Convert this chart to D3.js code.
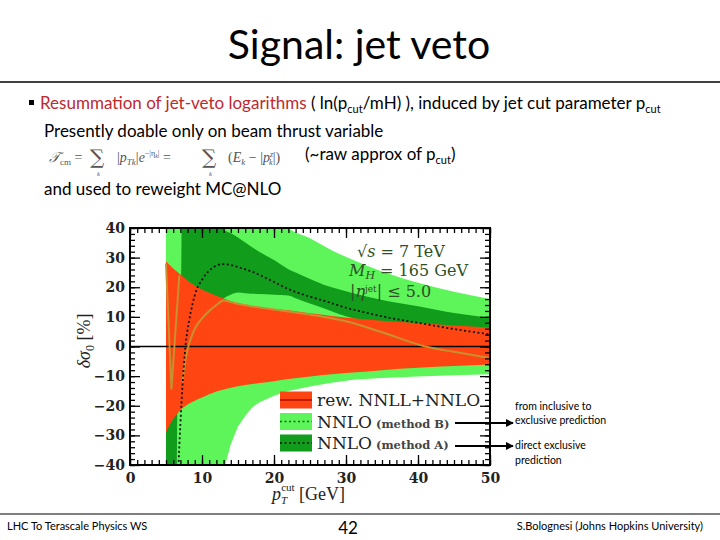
<!DOCTYPE html>
<html><head><meta charset="utf-8">
<script src="https://cdn.jsdelivr.net/npm/d3@7"></script>
<style>body{margin:0;background:#fff}</style>
</head><body>
<svg id="c" width="720" height="540" xmlns="http://www.w3.org/2000/svg"></svg>
<script>
// ---------- data ----------
const xTickLabels = [0, 10, 20, 30, 40, 50];
const yTickLabels = [-40, -30, -20, -10, 0, 10, 20, 30, 40];

// NNLO (method B) band - light green
const methBX  = [5, 8, 12, 16, 20, 22, 25, 28, 31, 35, 40, 45, 50];
const methBHi = [45, 45, 45, 45, 45, 40, 36.5, 32.5, 29.2, 25.3, 21.5, 18.5, 16];
const methBLoX = [5, 13, 14, 15, 16, 17, 18, 20, 22, 25, 28, 31, 35, 40, 45, 50];
const methBLo  = [-45, -42, -33, -27, -23.5, -20.5, -18.8, -16.6, -15, -13.5, -12.2, -11.2, -10.6, -10.1, -9.7, -9.4];

// NNLO (method A) band - dark green
const methAX  = [5, 6.5, 6.6, 7.1, 7.2, 8, 10, 12.5, 13, 14, 15, 16, 18, 20, 22, 23, 25, 27, 29, 31, 35, 40, 45, 50];
const methALo = [-45, -45, -18, -12, -11, 2, 10, 15, 16.2, 17.5, 18.2, 18, 17.7, 17.5, 17.2, 16.3, 14.5, 12.8, 11, 9.5, 7.5, 6, 5.3, 5];
const methAHi = [22, 23, 23.3, 23.8, 45, 45, 45, 45, 39.6, 38.2, 36.8, 35.1, 31.9, 29.2, 26.1, 25, 22.8, 20.8, 19.3, 18, 15.7, 13.6, 11.3, 9.7];

// rew. NNLL+NNLO band - red
const resumX  = [5, 5.5, 6, 7, 8, 9, 10, 12, 14, 16, 18, 20, 22, 25, 28, 31, 35, 40, 45, 50];
const resumHi = [28.8, 27.5, 26.3, 24.3, 22.3, 20.6, 19.2, 17.1, 15.3, 14.0, 13.2, 12.7, 12.2, 11.2, 10.3, 9.5, 8.7, 7.9, 7.1, 6.4];
const resumLo = [-29, -26.5, -24.5, -21.5, -19.6, -18.3, -17.2, -15.2, -13.9, -13.0, -12.3, -11.7, -11, -10.1, -9.4, -8.8, -8.0, -7.2, -6.6, -6.1];

// NNLO method A central (black dotted)
const centAX = [6.7, 7, 7.3, 7.7, 8.2, 8.7, 9.3, 10, 10.5, 11, 12, 12.8, 14, 15, 17, 20, 22, 25, 27, 30, 33, 36, 40, 45, 50];
const centAY = [-42, -26, -13, 0, 8.5, 14.5, 19.5, 22.5, 24.3, 25.6, 27.3, 27.8, 27.5, 26.8, 25.2, 21.8, 19.4, 16.8, 15.4, 13.1, 11.3, 9.7, 8.0, 5.9, 4.1];

// NNLO method B central (orange line), two branches
const centB1X = [5.0, 5.75, 6.85];
const centB1Y = [28, -14.5, 24];
const centB2X = [7.3, 7.6, 8, 8.5, 9, 10, 11, 12, 13, 14, 15, 17, 20, 23, 26, 30, 35, 41, 45, 50];
const centB2Y = [-12, -6, -1, 3, 6, 9.5, 12, 14, 15.5, 15.0, 14.4, 13.5, 12.5, 11.5, 10.4, 8.5, 4.8, 0, -1.8, -3.9];

const legendLabels = ["rew. NNLL+NNLO", "NNLO", "NNLO"];
const legendSubs = ["", "(method B)", "(method A)"];
const noteLines = [["from inclusive to", "exclusive prediction"], ["direct exclusive", "prediction"]];

// ---------- styles ----------
const C_RED = "#ff4512", C_LG = "#5df55a", C_DG = "#119c1c", C_OR = "#c8902e";
const svg = d3.select("#c");
const L = 130, R = 490, T = 228, B = 465;
const x = d3.scaleLinear().domain([0, 50]).range([L, R]);
const y = d3.scaleLinear().domain([-40, 40]).range([B, T]);

// ---------- slide text ----------
const sans = "Lato, 'Open Sans', sans-serif";
svg.append("text").attr("x", 359).attr("y", 59).attr("text-anchor", "middle")
  .attr("font-family", sans).attr("font-size", 41).attr("fill", "#000").text("Signal: jet veto");
svg.append("line").attr("x1", 0).attr("x2", 720).attr("y1", 82).attr("y2", 82).attr("stroke", "#000").attr("stroke-width", 1.5);

svg.append("rect").attr("x", 29).attr("y", 100).attr("width", 5).attr("height", 5).attr("fill", "#000");
const t1 = svg.append("text").attr("x", 40).attr("y", 109).attr("font-family", sans).attr("font-size", 17);
t1.append("tspan").attr("fill", "#c0282e").text("Resummation of jet-veto logarithms");
t1.append("tspan").attr("fill", "#000").text(" ( ln(p");
t1.append("tspan").attr("fill", "#000").attr("font-size", 11).attr("dy", 4).text("cut");
t1.append("tspan").attr("fill", "#000").attr("dy", -4).text("/mH) ), induced by jet cut parameter p");
t1.append("tspan").attr("fill", "#000").attr("font-size", 11).attr("dy", 4).text("cut");

svg.append("text").attr("x", 44).attr("y", 137).attr("font-family", sans).attr("font-size", 17).text("Presently doable only on beam thrust variable");

// formula
const serif = "'Liberation Serif', 'DejaVu Serif', serif";
const fc = "#555";
const f1 = svg.append("text").attr("x", 49).attr("y", 162).attr("font-family", serif).attr("font-size", 14).attr("fill", fc);
f1.append("tspan").attr("font-style", "italic").text("𝒯");
f1.append("tspan").attr("font-size", 9).attr("dy", 3).text("cm");
f1.append("tspan").attr("dy", -3).text(" =");
[[90, 97], [202, 209]].forEach(([sx, kx]) => {
  svg.append("text").attr("x", sx).attr("y", 164).attr("font-family", "'DejaVu Serif', serif").attr("font-size", 20).attr("fill", fc).text("∑");
  svg.append("text").attr("x", kx).attr("y", 176).attr("font-family", serif).attr("font-size", 6.5).attr("font-style", "italic").attr("fill", fc).text("k");
});
const f2 = svg.append("text").attr("x", 117).attr("y", 162).attr("font-family", serif).attr("font-size", 14).attr("fill", fc);
f2.append("tspan").text("|");
f2.append("tspan").attr("font-style", "italic").text("p");
f2.append("tspan").attr("font-style", "italic").attr("font-size", 9).attr("dy", 3).text("Tk");
f2.append("tspan").attr("dy", -3).text("|");
f2.append("tspan").attr("font-style", "italic").text("e");
f2.append("tspan").attr("font-size", 8).attr("dy", -6).text("−|η");
f2.append("tspan").attr("font-size", 6).attr("font-style", "italic").attr("dy", 2).text("k");
f2.append("tspan").attr("font-size", 8).attr("dy", -2).text("|");
f2.append("tspan").attr("dy", 6).text(" =");
const f3 = svg.append("text").attr("x", 228).attr("y", 162).attr("font-family", serif).attr("font-size", 14).attr("fill", fc);
f3.append("tspan").text("(");
f3.append("tspan").attr("font-style", "italic").text("E");
f3.append("tspan").attr("font-style", "italic").attr("font-size", 9).attr("dy", 3).text("k");
f3.append("tspan").attr("dy", -3).text(" − |");
f3.append("tspan").attr("font-style", "italic").text("p");
f3.append("tspan").attr("font-style", "italic").attr("font-size", 8).attr("dy", -5).text("z");
f3.append("tspan").attr("font-style", "italic").attr("font-size", 8).attr("dx", -4).attr("dy", 8).text("k");
f3.append("tspan").attr("dy", -3).text("|)");

const t3 = svg.append("text").attr("x", 305).attr("y", 160).attr("font-family", sans).attr("font-size", 17);
t3.append("tspan").text("(~raw approx of p");
t3.append("tspan").attr("font-size", 11).attr("dy", 4).text("cut");
t3.append("tspan").attr("dy", -4).text(")");

svg.append("text").attr("x", 44).attr("y", 195).attr("font-family", sans).attr("font-size", 17).text("and used to reweight MC@NLO");

// footer
svg.append("line").attr("x1", 0).attr("x2", 720).attr("y1", 514).attr("y2", 514).attr("stroke", "#000").attr("stroke-width", 1.2);
svg.append("text").attr("x", 7).attr("y", 530).attr("font-family", sans).attr("font-size", 11).text("LHC To Terascale Physics WS");
svg.append("text").attr("x", 348).attr("y", 534).attr("text-anchor", "middle").attr("font-family", sans).attr("font-size", 17).text("42");
svg.append("text").attr("x", 703).attr("y", 530).attr("text-anchor", "end").attr("font-family", sans).attr("font-size", 11).text("S.Bolognesi (Johns Hopkins University)");

// ---------- chart ----------
svg.append("defs").append("clipPath").attr("id", "clip").append("rect")
  .attr("x", L).attr("y", T).attr("width", R - L).attr("height", B - T);
const g = svg.append("g").attr("clip-path", "url(#clip)");

const lgUpper = methBX.map((d, i) => [x(d), y(methBHi[i])]);
const lgLower = methBLoX.map((d, i) => [x(d), y(methBLo[i])]).reverse();
const lineGen = d3.line().curve(d3.curveMonotoneX);
g.append("path").attr("d", lineGen(lgUpper) + "L" + lgLower.map(p => p.join(",")).join("L") + "Z").attr("fill", C_LG);

const areaGen = (xs, lo, hi) => d3.area().x((d, i) => x(xs[i])).y0((d, i) => y(lo[i])).y1((d, i) => y(hi[i])).curve(d3.curveMonotoneX)(xs);
g.append("path").attr("d", areaGen(methAX, methALo, methAHi)).attr("fill", C_DG);
g.append("path").attr("d", areaGen(resumX, resumLo, resumHi)).attr("fill", C_RED);

g.append("line").attr("x1", L).attr("x2", R).attr("y1", y(0)).attr("y2", y(0)).attr("stroke", "#000").attr("stroke-width", 1.3);

const ln = (xs, ys, c) => d3.line().x((d, i) => x(xs[i])).y((d, i) => y(ys[i])).curve(c)(xs);
g.append("path").attr("d", ln(centB1X, centB1Y, d3.curveLinear)).attr("fill", "none").attr("stroke", C_OR).attr("stroke-width", 2);
g.append("path").attr("d", ln(centB2X, centB2Y, d3.curveMonotoneX)).attr("fill", "none").attr("stroke", C_OR).attr("stroke-width", 2);
g.append("path").attr("d", ln(centAX, centAY, d3.curveMonotoneX)).attr("fill", "none").attr("stroke", "#111").attr("stroke-width", 1.8).attr("stroke-dasharray", "2,2.5");

// axes (ticks inward)
const tickFont = "'DejaVu Serif', serif";
const styleAx = sel => { sel.select(".domain").remove(); sel.selectAll("line").attr("stroke", "#000").attr("stroke-width", 1.3); };
svg.append("g").attr("transform", `translate(0,${B})`)
  .call(d3.axisBottom(x).tickValues(d3.range(0, 51, 1)).tickSize(-5).tickFormat("")).call(styleAx);
svg.append("g").attr("transform", `translate(0,${T})`)
  .call(d3.axisTop(x).tickValues(d3.range(0, 51, 1)).tickSize(-5).tickFormat("")).call(styleAx);
svg.append("g").attr("transform", `translate(0,${B})`)
  .call(d3.axisBottom(x).tickValues(xTickLabels).tickSize(-10).tickPadding(8)).call(styleAx)
  .selectAll("text").attr("font-family", tickFont).attr("font-weight", "bold").attr("font-size", 14).attr("fill", "#222");
svg.append("g").attr("transform", `translate(0,${T})`)
  .call(d3.axisTop(x).tickValues(xTickLabels).tickSize(-10).tickFormat("")).call(styleAx);
svg.append("g").attr("transform", `translate(${L},0)`)
  .call(d3.axisLeft(y).tickValues(d3.range(-40, 41, 2)).tickSize(-5).tickFormat("")).call(styleAx);
svg.append("g").attr("transform", `translate(${R},0)`)
  .call(d3.axisRight(y).tickValues(d3.range(-40, 41, 2)).tickSize(-5).tickFormat("")).call(styleAx);
svg.append("g").attr("transform", `translate(${L},0)`)
  .call(d3.axisLeft(y).tickValues(yTickLabels).tickSize(-10).tickPadding(5).tickFormat(d => d < 0 ? "−" + (-d) : d)).call(styleAx)
  .selectAll("text").attr("font-family", tickFont).attr("font-weight", "bold").attr("font-size", 14).attr("fill", "#222");
svg.append("g").attr("transform", `translate(${R},0)`)
  .call(d3.axisRight(y).tickValues(yTickLabels).tickSize(-10).tickFormat("")).call(styleAx);
svg.append("rect").attr("x", L).attr("y", T).attr("width", R - L).attr("height", B - T)
  .attr("fill", "none").attr("stroke", "#000").attr("stroke-width", 2);

// axis titles
const ytl = svg.append("text").attr("transform", "translate(90,341) rotate(-90)").attr("text-anchor", "middle")
  .attr("font-family", serif).attr("font-size", 18).attr("fill", "#222");
ytl.append("tspan").attr("font-style", "italic").text("δσ");
ytl.append("tspan").attr("font-size", 12).attr("dy", 4).text("0");
ytl.append("tspan").attr("dy", -4).text(" [%]");
const xtl = svg.append("text").attr("x", 272).attr("y", 500).attr("font-family", serif).attr("font-size", 18).attr("fill", "#222");
xtl.append("tspan").attr("font-style", "italic").text("p");
xtl.append("tspan").attr("font-style", "italic").attr("font-size", 11).attr("dy", 4).text("T");
xtl.append("tspan").attr("font-size", 11).attr("dx", -6).attr("dy", -13).text("cut");
xtl.append("tspan").attr("dy", 9).text(" [GeV]");

// in-plot annotation
const ann = "'DejaVu Serif', serif", annC = "#2f4f24";
const a1 = svg.append("text").attr("x", 357).attr("y", 257).attr("font-family", ann).attr("font-size", 16).attr("fill", annC);
a1.append("tspan").text("√");
a1.append("tspan").attr("font-style", "italic").text("s");
a1.append("tspan").text(" = 7 TeV");
const a2 = svg.append("text").attr("x", 349).attr("y", 276).attr("font-family", ann).attr("font-size", 16).attr("fill", annC);
a2.append("tspan").attr("font-style", "italic").text("M");
a2.append("tspan").attr("font-style", "italic").attr("font-size", 11).attr("dy", 3).text("H");
a2.append("tspan").attr("dy", -3).text(" = 165 GeV");
const a3 = svg.append("text").attr("x", 350).attr("y", 297).attr("font-family", ann).attr("font-size", 16).attr("fill", annC);
a3.append("tspan").text("|");
a3.append("tspan").attr("font-style", "italic").text("η");
a3.append("tspan").attr("font-size", 9).attr("dy", -5).text("jet");
a3.append("tspan").attr("dy", 5).text("| ≤ 5.0");

// legend
const legFill = [C_RED, C_LG, C_DG];
const legY = [400, 421.5, 443];
legFill.forEach((c, i) => {
  svg.append("rect").attr("x", 280).attr("y", legY[i] - 8.5).attr("width", 32).attr("height", 17).attr("fill", c);
  const ln2 = svg.append("line").attr("x1", 280).attr("x2", 312).attr("y1", legY[i]).attr("y2", legY[i]);
  if (i === 0) ln2.attr("stroke", "#b01000").attr("stroke-width", 1.5);
  else ln2.attr("stroke", i === 1 ? "#0b6a10" : "#111").attr("stroke-width", 1.5).attr("stroke-dasharray", "2,2.5");
  const tx = svg.append("text").attr("x", 317).attr("y", legY[i] + 6).attr("font-family", ann).attr("font-size", 17).attr("fill", "#222");
  tx.append("tspan").text(legendLabels[i]);
  if (legendSubs[i]) tx.append("tspan").attr("font-size", 11.5).attr("font-weight", "bold").attr("fill", "#444").text(" " + legendSubs[i]);
});

// arrows + notes
const defs = svg.select("defs");
defs.append("marker").attr("id", "ah").attr("viewBox", "0 0 10 10").attr("refX", 9).attr("refY", 5)
  .attr("markerWidth", 4).attr("markerHeight", 4).attr("orient", "auto")
  .append("path").attr("d", "M0,0L10,5L0,10Z").attr("fill", "#000");
[423, 446].forEach(yy => {
  svg.append("line").attr("x1", 455).attr("x2", 513).attr("y1", yy).attr("y2", yy)
    .attr("stroke", "#000").attr("stroke-width", 2).attr("marker-end", "url(#ah)");
});
const noteY = [[410, 424], [449, 464]];
noteLines.forEach((ls, i) => ls.forEach((s, j) => {
  svg.append("text").attr("x", 515).attr("y", noteY[i][j]).attr("font-family", sans).attr("font-size", 10.5).text(s);
}));
</script>
</body></html>
